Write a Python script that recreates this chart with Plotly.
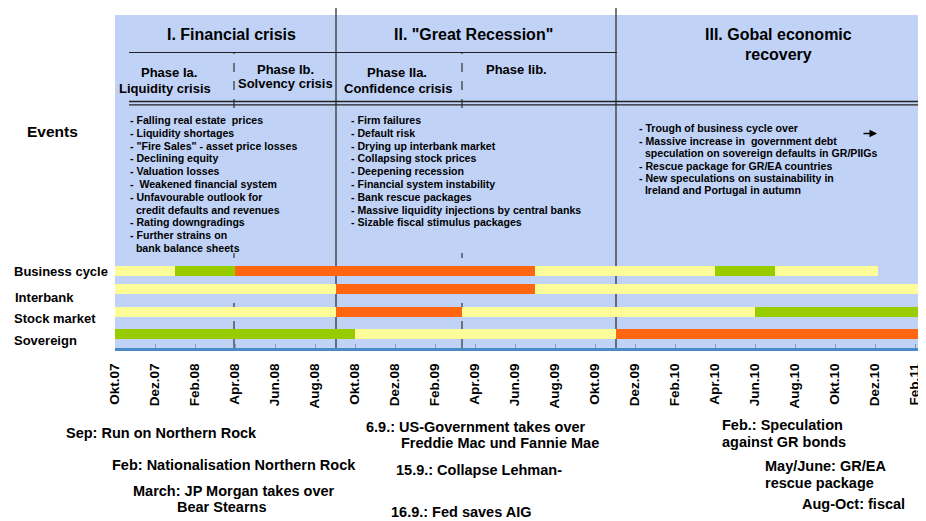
import plotly.graph_objects as go

# ---------------- data ----------------
tick_labels = ["Okt.07", "Dez.07", "Feb.08", "Apr.08", "Jun.08", "Aug.08", "Okt.08",
               "Dez.08", "Feb.09", "Apr.09", "Jun.09", "Aug.09", "Okt.09", "Dez.09",
               "Feb.10", "Apr.10", "Jun.10", "Aug.10", "Okt.10", "Dez.10", "Feb.11"]
tick_months = list(range(0, 41, 2))          # months since Okt.07

rows = ["Business cycle", "Interbank", "Stock market", "Sovereign"]

# segments: start month, end month, state (months since Okt.07)
business_cycle_start = [0, 3, 6, 21, 30, 33]
business_cycle_end = [3, 6, 21, 30, 33, 38.15]
business_cycle_state = ["yellow", "green", "orange", "yellow", "green", "yellow"]

interbank_start = [0, 11.05, 21]
interbank_end = [11.05, 21, 40.6]
interbank_state = ["yellow", "orange", "yellow"]

stock_start = [0, 11.05, 17.35, 32]
stock_end = [11.05, 17.35, 32, 40.6]
stock_state = ["yellow", "orange", "yellow", "green"]

sovereign_start = [0, 12, 25.05]
sovereign_end = [12, 25.05, 40.6]
sovereign_state = ["green", "yellow", "orange"]

state_colors = {"yellow": "#FCFC99", "green": "#99CC00", "orange": "#FF6612"}

# phase boundaries (months since Okt.07)
phase_dashed = [5.95, 17.35]
phase_solid = [11.05, 25.05]

events_1 = ["- Falling real estate  prices", "- Liquidity shortages",
            "- \"Fire Sales\" - asset price losses", "- Declining equity",
            "- Valuation losses", "-  Weakened financial system",
            "- Unfavourable outlook for", "  credit defaults and revenues",
            "- Rating downgradings", "- Further strains on", "  bank balance sheets"]
events_2 = ["- Firm failures", "- Default risk", "- Drying up interbank market",
            "- Collapsing stock prices", "- Deepening recession",
            "- Financial system instability", "- Bank rescue packages",
            "- Massive liquidity injections by central banks",
            "- Sizable fiscal stimulus packages"]
events_3 = ["- Trough of business cycle over",
            "- Massive increase in  government debt",
            "  speculation on sovereign defaults in GR/PIIGs",
            "- Rescue package for GR/EA countries",
            "- New speculations on sustainability in",
            "  Ireland and Portugal in autumn"]

# ---------------- layout geometry ----------------
# the page body adds an 8px offset; figure is sized so it fills the window
OFF = 8
W, H = 926 - OFF, 521 - OFF
L, T = 115 - OFF, 15 - OFF
PLOT_BOTTOM = 348 - OFF
B = H - PLOT_BOTTOM
PW, PH = W - L, PLOT_BOTTOM - T
FONT = "Liberation Sans, Arial, sans-serif"


def px(x):          # window pixel -> paper x
    return (x - OFF - L) / PW


def py(y):          # window pixel -> paper y
    return (PLOT_BOTTOM - (y - OFF)) / PH


row_y = {"Business cycle": 77, "Interbank": 59, "Stock market": 36, "Sovereign": 14}

fig = go.Figure()
series = [("Business cycle", business_cycle_start, business_cycle_end, business_cycle_state),
          ("Interbank", interbank_start, interbank_end, interbank_state),
          ("Stock market", stock_start, stock_end, stock_state),
          ("Sovereign", sovereign_start, sovereign_end, sovereign_state)]
for name, s, e, st in series:
    fig.add_trace(go.Bar(
        orientation="h",
        y=[row_y[name]] * len(s),
        base=s,
        x=[b - a for a, b in zip(s, e)],
        width=10,
        marker=dict(color=[state_colors[c] for c in st], line=dict(width=0)),
        showlegend=False, hoverinfo="skip", name=name))

shapes = []
line_col = "#222222"
for m in phase_solid:
    shapes.append(dict(type="line", xref="x", yref="paper", x0=m, x1=m,
                       y0=py(348), y1=py(8), line=dict(color="#333333", width=1.3),
                       layer="below"))
for m in phase_dashed:
    for (ya, yb) in [(52, 108), (253, 348)]:
        shapes.append(dict(type="line", xref="x", yref="paper", x0=m, x1=m,
                           y0=py(yb), y1=py(ya),
                           line=dict(color="#333333", width=1.2, dash="dash"),
                           layer="below"))
shapes.append(dict(type="line", xref="paper", yref="paper", x0=px(129), x1=px(617),
                   y0=py(52.5), y1=py(52.5), line=dict(color=line_col, width=1.2)))
for yy in (101.5, 104.8):
    shapes.append(dict(type="line", xref="paper", yref="paper", x0=px(129), x1=px(918),
                       y0=py(yy), y1=py(yy), line=dict(color=line_col, width=1.3)))

ann = []


def text(t, x, y, size, anchor="center", bold=True):
    ann.append(dict(xref="paper", yref="paper", x=px(x), y=py(y), text=t,
                    showarrow=False, xanchor=anchor, yanchor="middle",
                    font=dict(family=FONT, size=size, color="black",
                              weight="bold" if bold else "normal")))


text("I. Financial crisis", 231, 35, 16)
text("II. \"Great Recession\"", 473, 35, 16)
text("III. Gobal economic", 778, 35, 16)
text("recovery", 778, 55, 16)
text("Phase Ia.", 169, 72, 13)
text("Liquidity crisis", 165, 88, 13)
text("Phase Ib.", 285, 69, 13)
text("Solvency crisis", 285, 83.5, 13)
text("Phase IIa.", 397, 72, 13)
text("Confidence crisis", 398, 88, 13)
text("Phase Iib.", 516, 69, 13)

text("Events", 25, 131, 15.5, anchor="left")
for i, ln in enumerate(events_1):
    text(ln.replace("  ", "\u00a0\u00a0"), 128, 120 + i * 12.8, 10.6, anchor="left")
for i, ln in enumerate(events_2):
    text(ln, 349, 120 + i * 12.8, 10.6, anchor="left")
for i, ln in enumerate(events_3):
    text(ln.replace("  ", "\u00a0\u00a0"), 637, 128 + i * 12.5, 10.6, anchor="left")

ann.append(dict(xref="paper", yref="paper", x=px(877), y=py(133.5), ax=-15, ay=0,
                text="", showarrow=True, arrowhead=2, arrowsize=1, arrowwidth=1.5,
                arrowcolor="black"))

text("Business cycle", 12, 271.5, 13, anchor="left")
text("Interbank", 13, 297, 13, anchor="left")
text("Stock market", 12, 318, 13, anchor="left")
text("Sovereign", 12, 340, 13, anchor="left")

text("Sep: Run on Northern Rock", 161.5, 433, 14.5)
text("Feb: Nationalisation Northern Rock", 234, 465, 14.5)
text("March: JP Morgan takes over", 233.5, 491, 14.5)
text("Bear Stearns", 221, 507, 14.5)
text("6.9.: US-Government takes over", 476, 427, 14.5)
text("Freddie Mac und Fannie Mae", 499.5, 443, 14.5)
text("15.9.: Collapse Lehman-", 478.5, 470, 14.5)
text("16.9.: Fed saves AIG", 461, 512, 14.5)
text("Feb.: Speculation", 720, 425, 14.5, anchor="left")
text("against GR bonds", 720, 442, 14.5, anchor="left")
text("May/June: GR/EA", 763, 466, 14.5, anchor="left")
text("rescue package", 763, 483, 14.5, anchor="left")
text("Aug-Oct: fiscal", 800, 504, 14.5, anchor="left")

fig.update_layout(
    width=W, height=H,
    margin=dict(l=L, r=0, t=T, b=B, pad=0),
    paper_bgcolor="white", plot_bgcolor="#C0D3F7",
    barmode="overlay", bargap=0,
    shapes=shapes, annotations=ann,
    font=dict(family=FONT),
    xaxis=dict(range=[0, PW / 20], tickmode="array", tickvals=tick_months,
               ticktext=tick_labels, tickangle=-90, ticks="inside", ticklen=4,
               tickcolor="#8899AA", tickwidth=1, showline=True, linecolor="#4A8BC6",
               linewidth=3, showgrid=False, zeroline=False, ticklabelstandoff=7,
               ticklabeloverflow="allow",
               tickfont=dict(family=FONT, size=13.5, color="black", weight="bold")),
    yaxis=dict(range=[0, PH], visible=False, showgrid=False, zeroline=False,
               fixedrange=True),
)

fig.write_html("out.html")
